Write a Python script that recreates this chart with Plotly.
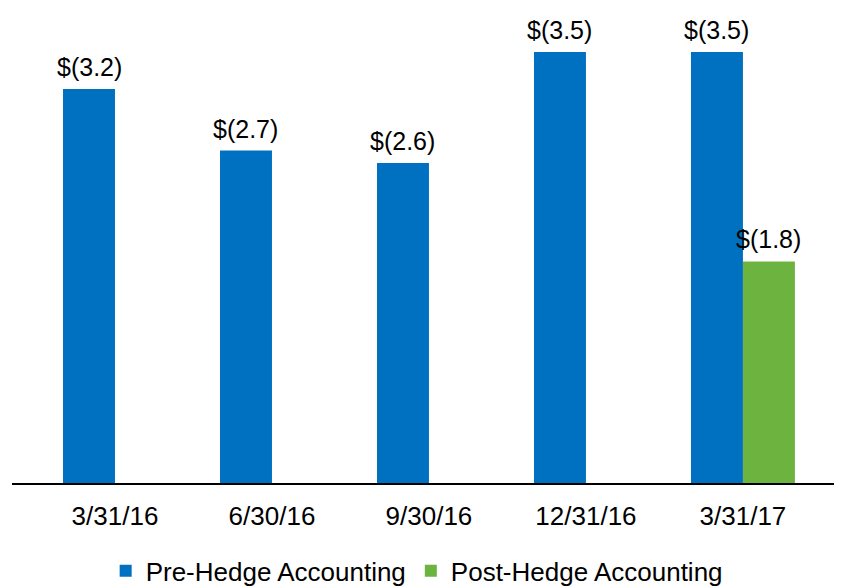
import plotly.graph_objects as go

categories = ["3/31/16", "6/30/16", "9/30/16", "12/31/16", "3/31/17"]
pre_hedge = [3.2, 2.7, 2.6, 3.5, 3.5]
post_hedge = [None, None, None, None, 1.8]
series_names = ["Pre-Hedge Accounting", "Post-Hedge Accounting"]
colors = ["#0070C0", "#6DB33F"]

def fmt(v):
    return f"$({v:.1f})"

FONT = "Liberation Sans, Arial, sans-serif"
BARGAP = 0.338

fig = go.Figure()
for name, vals, col in zip(series_names, [pre_hedge, post_hedge], colors):
    fig.add_trace(go.Bar(
        x=categories, y=vals, name=name,
        marker=dict(color=col, line=dict(width=0)),
    ))

# value labels above each bar (positioned in data coordinates of the grouped bars)
half = (1 - BARGAP) / 4
annotations = []
for k, vals in enumerate([pre_hedge, post_hedge]):
    off = -half if k == 0 else half
    for i, v in enumerate(vals):
        if v is None:
            continue
        annotations.append(dict(
            x=i + off, y=v, xref="x", yref="y",
            text=fmt(v), showarrow=False,
            yanchor="bottom", xanchor="center", yshift=6,
            font=dict(size=25, family=FONT, color="#000000"),
        ))

fig.update_layout(
    width=834, height=579,
    margin=dict(l=4, r=0, t=0, b=104, autoexpand=False),
    paper_bgcolor="white", plot_bgcolor="white",
    barmode="group", bargap=BARGAP, bargroupgap=0,
    font=dict(family=FONT, size=25, color="#000000"),
    showlegend=True,
    legend=dict(
        orientation="h", xref="container", yref="container",
        x=0.490, xanchor="center", y=0.028, yanchor="middle",
        font=dict(size=26, family=FONT, color="#000000"),
        traceorder="normal", itemwidth=30,
    ),
    xaxis=dict(
        type="category", range=[-0.656, 4.631],
        showline=True, linecolor="#000000", linewidth=2,
        ticks="", showgrid=False, zeroline=False,
        tickfont=dict(size=26, family=FONT, color="#000000"),
        ticklabelstandoff=9,
    ),
    yaxis=dict(
        range=[0, 3.858], visible=False, showgrid=False, zeroline=False,
    ),
    annotations=annotations,
)

fig.write_html("out.html")
